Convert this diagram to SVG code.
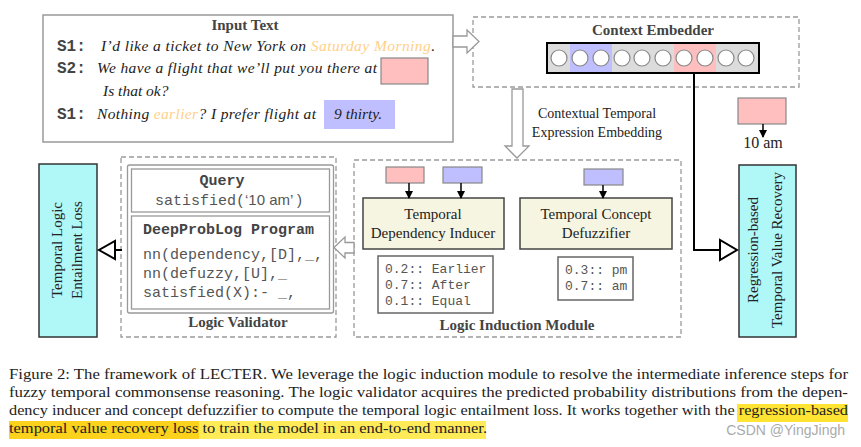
<svg xmlns="http://www.w3.org/2000/svg" width="861" height="447" viewBox="0 0 861 447">
<defs>
<style>
.serif{font-family:"Liberation Serif","Times New Roman",serif;fill:#222}
.bold{font-weight:bold;fill:#444}
.mono{font-family:"Liberation Mono","Courier New",monospace}
.dash{fill:none;stroke:#9a9a9a;stroke-width:1.3;stroke-dasharray:5,3}
.hollow{fill:#fff;stroke:#999;stroke-width:1.3}
.mod{fill:#f5f5e2;stroke:#444;stroke-width:1.5}
.loss{fill:#b0f7f7;stroke:#333;stroke-width:1.5}
.prob{fill:#fff;stroke:#666;stroke-width:1.5}
.pink{fill:#ffbfbf;stroke:#888;stroke-width:1.2}
.blue{fill:#bfbfff;stroke:#888;stroke-width:1.2}
.cir{fill:#fff;stroke:#888;stroke-width:1.2}
.blk{fill:none;stroke:#000;stroke-width:2}
.tri{fill:#fff;stroke:#000;stroke-width:2}
.orange{fill:#ffd08a}
.it{font-style:italic}
.pt{font-family:"Liberation Mono","Courier New",monospace;font-size:13px;fill:#555}
</style>
<marker id="ah" markerWidth="8" markerHeight="8" refX="7" refY="4" orient="auto" markerUnits="userSpaceOnUse">
<path d="M0,0 L8,4 L0,8 Z" fill="#000"/>
</marker>
</defs>
<rect width="861" height="447" fill="#fff"/>

<g id="input-text">
<rect x="43" y="15" width="410" height="127" fill="#fff" stroke="#999" stroke-width="1.5"/>
<text x="245" y="30" class="serif bold" font-size="15" text-anchor="middle">Input Text</text>
<text x="57" y="51" class="mono" font-size="16" font-weight="bold" fill="#444">S1:</text>
<text x="101" y="51" class="serif it" font-size="15.5" textLength="334">I’d like a ticket to New York on <tspan class="orange">Saturday Morning</tspan>.</text>
<text x="57" y="73" class="mono" font-size="16" font-weight="bold" fill="#444">S2:</text>
<text x="97" y="73" class="serif it" font-size="15.5" textLength="280">We have a flight that we’ll put you there at</text>
<rect x="381" y="58" width="47" height="26" class="pink"/>
<text x="103" y="96" class="serif it" font-size="15.5">Is that ok?</text>
<text x="57" y="119" class="mono" font-size="16" font-weight="bold" fill="#444">S1:</text>
<text x="97" y="119" class="serif it" font-size="15.5" textLength="219">Nothing <tspan class="orange">earlier</tspan>? I prefer flight at</text>
<rect x="324" y="100" width="71" height="29" fill="#bfbfff"/>
<text x="334" y="119" class="serif it" font-size="15.5">9 thirty.</text>
</g>

<g id="context-embedder">
<rect x="473" y="17" width="326" height="70" class="dash"/>
<text x="653" y="35" class="serif bold" font-size="15" text-anchor="middle">Context Embedder</text>
<rect x="547" y="43" width="212" height="30" fill="#dcdcdc"/>
<rect x="570" y="44" width="42" height="28" fill="#bfbfff"/>
<rect x="674" y="44" width="42" height="28" fill="#ffbfbf"/>
<rect x="547" y="43" width="212" height="30" fill="none" stroke="#000" stroke-width="2"/>
<circle cx="559" cy="58" r="8" class="cir"/>
<circle cx="580" cy="58" r="8" class="cir"/>
<circle cx="601" cy="58" r="8" class="cir"/>
<circle cx="622" cy="58" r="8" class="cir"/>
<circle cx="642" cy="58" r="8" class="cir"/>
<circle cx="663" cy="58" r="8" class="cir"/>
<circle cx="684" cy="58" r="8" class="cir"/>
<circle cx="705" cy="58" r="8" class="cir"/>
<circle cx="726" cy="58" r="8" class="cir"/>
<circle cx="746" cy="58" r="8" class="cir"/>
</g>

<g id="target-value">
<rect x="738" y="98" width="48" height="26" class="pink"/>
<text x="763" y="148" class="serif" font-size="16" text-anchor="middle" fill="#333">10 am</text>
</g>

<g id="entailment-loss">
<rect x="39" y="164" width="58" height="173" class="loss"/>
<text transform="translate(62,250) rotate(-90)" class="serif" font-size="15" text-anchor="middle" fill="#333">Temporal Logic</text>
<text transform="translate(82,250) rotate(-90)" class="serif" font-size="15" text-anchor="middle" fill="#333">Entailment Loss</text>
</g>

<g id="logic-validator">
<rect x="121" y="157" width="215" height="180" class="dash"/>
<rect x="127.5" y="165" width="206" height="148" rx="2" fill="#fff" stroke="#999" stroke-width="1.3"/>
<rect x="131.5" y="169" width="198" height="43" fill="none" stroke="#999" stroke-width="1.3"/>
<rect x="131.5" y="216" width="198" height="93" fill="none" stroke="#999" stroke-width="1.3"/>
<text x="222" y="185" class="mono" font-size="15" font-weight="bold" fill="#444" text-anchor="middle">Query</text>
<text x="155" y="205" font-size="15" fill="#555"><tspan class="mono">satisfied(</tspan><tspan font-family="Liberation Sans, Arial, sans-serif">‘10 am’ )</tspan></text>
<text x="143" y="234" class="mono" font-size="15" font-weight="bold" fill="#444">DeepProbLog Program</text>
<text x="143" y="259" class="mono" font-size="15" fill="#555">nn(dependency,[D],_,</text>
<text x="143" y="278" class="mono" font-size="15" fill="#555">nn(defuzzy,[U],_</text>
<text x="143" y="297" class="mono" font-size="15" fill="#555">satisfied(X):- _,</text>
<text x="238" y="327" class="serif bold" font-size="15" text-anchor="middle">Logic Validator</text>
</g>

<g id="logic-induction-module">
<rect x="354" y="160" width="327" height="177" class="dash"/>
<text x="517" y="330" class="serif bold" font-size="15" text-anchor="middle">Logic Induction Module</text>
<rect x="386" y="167" width="38" height="16" class="pink"/>
<rect x="443" y="167" width="39" height="16" class="blue"/>
<rect x="584" y="169" width="39" height="16" class="blue"/>
</g>

<g id="dependency-inducer">
<rect x="363" y="198" width="141" height="51" class="mod"/>
<text x="433" y="219" class="serif" font-size="15" text-anchor="middle">Temporal</text>
<text x="433" y="238" class="serif" font-size="15" text-anchor="middle">Dependency Inducer</text>
</g>

<g id="concept-defuzzifier">
<rect x="520" y="198" width="152" height="51" class="mod"/>
<text x="596" y="219" class="serif" font-size="15" text-anchor="middle">Temporal Concept</text>
<text x="596" y="238" class="serif" font-size="15" text-anchor="middle">Defuzzifier</text>
</g>

<g id="dependency-probs">
<rect x="378" y="256" width="115" height="57" class="prob"/>
<text x="385" y="273" class="pt">0.2:: Earlier</text>
<text x="385" y="289" class="pt">0.7:: After</text>
<text x="385" y="305" class="pt">0.1:: Equal</text>
</g>

<g id="defuzzy-probs">
<rect x="558" y="257" width="75" height="43" class="prob"/>
<text x="565" y="274" class="pt">0.3:: pm</text>
<text x="565" y="290" class="pt">0.7:: am</text>
</g>

<g id="value-recovery">
<rect x="739" y="165" width="57" height="172" class="loss"/>
<text transform="translate(758,250) rotate(-90)" class="serif" font-size="15" text-anchor="middle" fill="#333">Regression-based</text>
<text transform="translate(782,250) rotate(-90)" class="serif" font-size="15" text-anchor="middle" fill="#333">Temporal Value Recovery</text>
</g>

<g id="connectors">
<polygon points="453,36 467,36 467,30 479,41.5 467,53 467,47 453,47" class="hollow"/>
<polygon points="512,89 523,89 523,146 529,146 517,158 505,146 512,146" class="hollow"/>
<polygon points="354,242.5 345,242.5 345,237 334,247.5 345,258 345,253 354,253" class="hollow"/>
<text x="597" y="118" class="serif" font-size="14" text-anchor="middle" fill="#333">Contextual Temporal</text>
<text x="597" y="137" class="serif" font-size="14" text-anchor="middle" fill="#333">Expression Embedding</text>
<polyline points="694,73 694,250 720,250" class="blk"/>
<polygon points="720,240 720,260 737,250" class="tri"/>
<line x1="122" y1="250" x2="115" y2="250" stroke="#000" stroke-width="2"/>
<polygon points="115,241 115,259 99,250" class="tri"/>
<line x1="763" y1="124" x2="763" y2="137" stroke="#000" stroke-width="1.5" marker-end="url(#ah)"/>
<line x1="409" y1="183" x2="409" y2="198" stroke="#000" stroke-width="1.5" marker-end="url(#ah)"/>
<line x1="461" y1="183" x2="461" y2="198" stroke="#000" stroke-width="1.5" marker-end="url(#ah)"/>
<line x1="603" y1="185" x2="603" y2="198" stroke="#000" stroke-width="1.5" marker-end="url(#ah)"/>
</g>

<g id="caption">
<rect x="737" y="404" width="111" height="18" fill="#ffe433"/>
<rect x="9" y="421" width="190" height="18" fill="#fcd21c"/>
<rect x="199" y="421" width="287" height="18" fill="#ffeb58"/>
<text x="9" y="379" class="serif" font-size="15.5" fill="#111" textLength="839" lengthAdjust="spacingAndGlyphs">Figure 2: The framework of LECTER. We leverage the logic induction module to resolve the intermediate inference steps for</text>
<text x="9" y="397" class="serif" font-size="15.5" fill="#111" textLength="839" lengthAdjust="spacingAndGlyphs">fuzzy temporal commonsense reasoning. The logic validator acquires the predicted probability distributions from the depen-</text>
<text x="9" y="415" class="serif" font-size="15.5" fill="#111" textLength="839" lengthAdjust="spacingAndGlyphs">dency inducer and concept defuzzifier to compute the temporal logic entailment loss. It works together with the regression-based</text>
<text x="9" y="433" class="serif" font-size="15.5" fill="#111" textLength="478" lengthAdjust="spacingAndGlyphs">temporal value recovery loss to train the model in an end-to-end manner.</text>
<text x="845" y="435" font-family="Liberation Sans, Arial, sans-serif" font-size="14" fill="#aaa" text-anchor="end">CSDN @YingJingh</text>
</g>
</svg>
